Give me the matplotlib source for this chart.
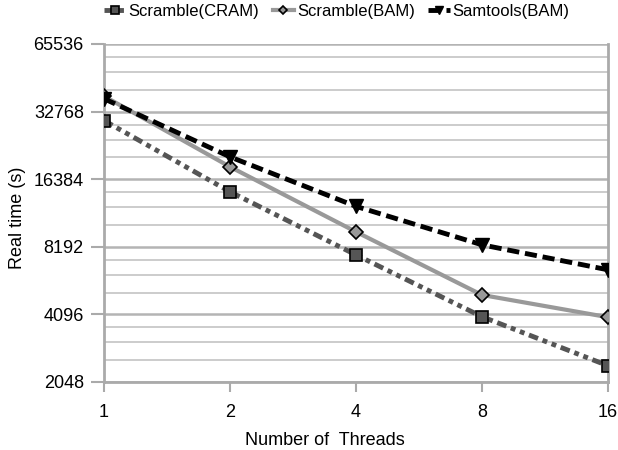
import numpy as np
import matplotlib
matplotlib.use('Agg')
import matplotlib.pyplot as plt
from matplotlib.ticker import FixedLocator, NullFormatter

plt.rcParams['font.family'] = ['Liberation Sans', 'DejaVu Sans']

threads = [1, 2, 4, 8, 16]
scramble_cram = [29900, 14400, 7540, 4000, 2420]
scramble_bam = [38400, 18600, 9550, 5000, 3980]
samtools_bam = [37400, 20600, 12400, 8360, 6470]
yticks = [2048, 4096, 8192, 16384, 32768, 65536]

fig = plt.figure(figsize=(6.18, 4.5), dpi=100)
ax = fig.add_axes([104 / 618, 1 - 382 / 450, 504 / 618, 338 / 450])

ax.set_xscale('log', base=2)
ax.set_yscale('log', base=2)
ax.set_xlim(1, 16)
ax.set_ylim(2048, 65536)

# minor gridlines at 1.25, 1.5, 1.75 of each octave (excel style)
minors = [v * f for v in yticks[:-1] for f in (1.25, 1.5, 1.75)]
ax.yaxis.set_major_locator(FixedLocator(yticks))
ax.yaxis.set_minor_locator(FixedLocator(minors))
ax.yaxis.set_minor_formatter(NullFormatter())
ax.set_yticklabels([str(v) for v in yticks])
ax.xaxis.set_major_locator(FixedLocator(threads))
ax.xaxis.set_minor_locator(FixedLocator([]))
ax.set_xticklabels([str(t) for t in threads])

ax.grid(True, axis='y', which='major', color='#b4b4b4', lw=1.8)
ax.grid(True, axis='y', which='minor', color='#c8c8c8', lw=1.3)
ax.set_axisbelow(True)

for s in ['left', 'bottom', 'right']:
    ax.spines[s].set_color('#aaaaaa')
    ax.spines[s].set_linewidth(2)
ax.spines['top'].set_visible(False)
ax.tick_params(axis='y', which='major', length=9.5, width=1.5, color='#aaaaaa',
               labelsize=13, pad=5)
ax.tick_params(axis='x', which='major', length=7.5, width=1.5, color='#aaaaaa',
               labelsize=13, pad=8)
ax.tick_params(axis='y', which='minor', length=0)

ax.plot(threads, scramble_cram, color='#555555', lw=3.5, ls=(0, (2, 1, 1, 1, 1, 1)),
        marker='s', ms=9, mfc='#555555', mec='black', mew=1.2,
        label='Scramble(CRAM)', zorder=3)
ax.plot(threads, scramble_bam, color='#999999', lw=3, ls='-',
        marker='D', ms=7, mfc='#999999', mec='black', mew=1.2,
        label='Scramble(BAM)', zorder=4)
ax.plot(threads, samtools_bam, color='black', lw=3.5, ls=(0, (2.5, 1.2)),
        marker='v', ms=10, mfc='black', mec='black',
        label='Samtools(BAM)', zorder=5)

ax.set_xlabel('Number of  Threads', fontsize=13)
ax.xaxis.set_label_coords(0.4385, -0.148)
ax.set_ylabel('Real time (s)', fontsize=13)
ax.yaxis.set_label_coords(-0.155, 0.485)

leg = fig.legend(loc='upper center', bbox_to_anchor=(0.545, 1.025), ncol=3,
                 frameon=False, fontsize=12, handlelength=1.3, handletextpad=0.15,
                 columnspacing=0.8, markerscale=0.6)

fig.savefig('out.png', dpi=100)
